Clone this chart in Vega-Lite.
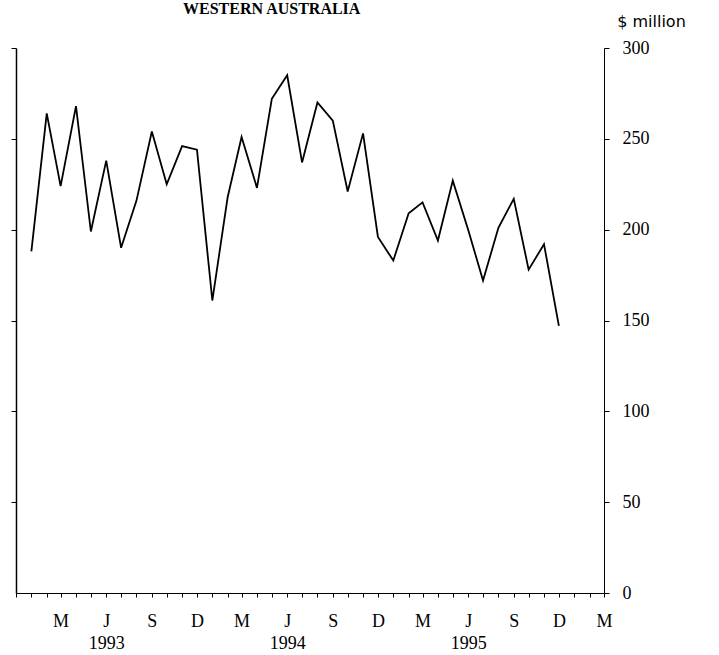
{
  "$schema": "https://vega.github.io/schema/vega-lite/v6.json",
  "width": 588,
  "height": 545,
  "autosize": {"type": "none"},
  "padding": {"left": 16, "top": 48, "right": 115, "bottom": 62},
  "background": "white",
  "title": {
    "text": "WESTERN AUSTRALIA",
    "anchor": "start",
    "frame": "group",
    "dx": 167,
    "dy": 17,
    "offset": 0,
    "baseline": "alphabetic",
    "font": "Liberation Serif",
    "fontSize": 16,
    "fontWeight": "bold",
    "color": "black"
  },
  "config": {
    "view": {"stroke": null},
    "axis": {
      "domainColor": "black",
      "tickColor": "black",
      "labelColor": "black",
      "titleColor": "black",
      "grid": false,
      "labelFont": "Liberation Serif",
      "labelFontSize": 18
    }
  },
  "data": {
    "values": [
      {"date": "1993-01-01", "value": 188},
      {"date": "1993-02-01", "value": 264},
      {"date": "1993-03-01", "value": 224},
      {"date": "1993-04-01", "value": 268},
      {"date": "1993-05-01", "value": 199},
      {"date": "1993-06-01", "value": 238},
      {"date": "1993-07-01", "value": 190},
      {"date": "1993-08-01", "value": 216},
      {"date": "1993-09-01", "value": 254},
      {"date": "1993-10-01", "value": 225},
      {"date": "1993-11-01", "value": 246},
      {"date": "1993-12-01", "value": 244},
      {"date": "1994-01-01", "value": 161},
      {"date": "1994-02-01", "value": 218},
      {"date": "1994-03-01", "value": 251},
      {"date": "1994-04-01", "value": 223},
      {"date": "1994-05-01", "value": 272},
      {"date": "1994-06-01", "value": 285},
      {"date": "1994-07-01", "value": 237},
      {"date": "1994-08-01", "value": 270},
      {"date": "1994-09-01", "value": 260},
      {"date": "1994-10-01", "value": 221},
      {"date": "1994-11-01", "value": 253},
      {"date": "1994-12-01", "value": 196},
      {"date": "1995-01-01", "value": 183},
      {"date": "1995-02-01", "value": 209},
      {"date": "1995-03-01", "value": 215},
      {"date": "1995-04-01", "value": 194},
      {"date": "1995-05-01", "value": 227},
      {"date": "1995-06-01", "value": 200},
      {"date": "1995-07-01", "value": 172},
      {"date": "1995-08-01", "value": 201},
      {"date": "1995-09-01", "value": 217},
      {"date": "1995-10-01", "value": 178},
      {"date": "1995-11-01", "value": 192},
      {"date": "1995-12-01", "value": 147}
    ]
  },
  "encoding": {
    "x": {
      "field": "date",
      "type": "temporal",
      "scale": {
        "type": "utc",
        "domain": [
          {"year": 1992, "month": 12, "date": 1, "utc": true},
          {"year": 1996, "month": 3, "date": 1, "utc": true}
        ]
      },
      "axis": {
        "title": null,
        "tickCount": {"interval": "month", "step": 1},
        "tickSize": 4,
        "labelOverlap": false,
        "labelFlush": false,
        "labelBound": false,
        "labelPadding": 15,
        "labelLineHeight": 22,
        "labelAlign": "center",
        "labelBaseline": "top",
        "labelExpr": "utcyear(datum.value) < 1993 ? '' : utcmonth(datum.value) == 2 ? 'M' : utcmonth(datum.value) == 5 ? ['J', '' + utcyear(datum.value)] : utcmonth(datum.value) == 8 ? 'S' : utcmonth(datum.value) == 11 ? 'D' : ''"
      }
    },
    "y": {
      "field": "value",
      "type": "quantitative",
      "scale": {"domain": [0, 300], "nice": false, "zero": true}
    }
  },
  "layer": [
    {
      "mark": {"type": "line", "color": "black", "strokeWidth": 1.8},
      "encoding": {
        "y": {
          "field": "value",
          "type": "quantitative",
          "scale": {"domain": [0, 300], "nice": false},
          "axis": {
            "orient": "left",
            "title": null,
            "values": [50, 100, 150, 200, 250, 300],
            "labels": false,
            "tickSize": 5,
            "domainWidth": 1.5
          }
        }
      }
    },
    {
      "mark": {"type": "line", "color": "black", "opacity": 0},
      "encoding": {
        "y": {
          "field": "value",
          "type": "quantitative",
          "scale": {"domain": [0, 300], "nice": false},
          "axis": {
            "orient": "right",
            "values": [0, 50, 100, 150, 200, 250, 300],
            "tickSize": 5,
            "labelPadding": 13,
            "labelAlign": "left",
            "title": "$ million",
            "titleAngle": 0,
            "titleX": 47,
            "titleY": -27,
            "titleAlign": "center",
            "titleBaseline": "middle",
            "titleFont": "DejaVu Sans",
            "titleFontSize": 16,
            "titleFontWeight": "normal"
          }
        }
      }
    }
  ],
  "resolve": {"scale": {"y": "shared"}, "axis": {"y": "independent"}}
}
